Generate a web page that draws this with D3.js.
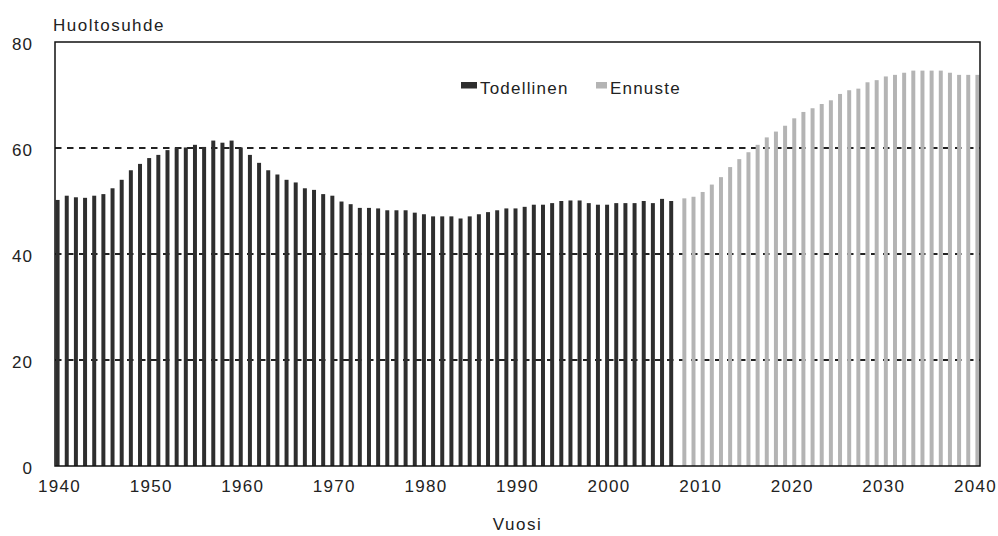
<!DOCTYPE html>
<html>
<head>
<meta charset="utf-8">
<script src="https://cdn.jsdelivr.net/npm/d3@7"></script>
<style>
  body { margin: 0; background: #fff; }
  text { font-family: "Liberation Sans", Arial, sans-serif; fill: #222; }
</style>
</head>
<body>
<script>
// vuodet ja huoltosuhde
const actualYears = d3.range(1940, 2008)
const forecastYears = d3.range(2008, 2041)
const actualValues = [
  50.2, 51.0, 50.7, 50.6, 51.0, 51.3, 52.4, 54.0, 55.8, 57.0,
  58.1, 58.7, 59.6, 60.1, 60.1, 60.6, 60.2, 61.4, 61.0, 61.4,
  60.1, 58.7, 57.2, 55.8, 55.0, 54.0, 53.5, 52.4, 52.1, 51.3,
  51.0, 49.9, 49.4, 48.7, 48.7, 48.6, 48.25, 48.25, 48.25, 47.8,
  47.5, 47.1, 47.1, 47.1, 46.7, 47.1, 47.5, 47.9, 48.25, 48.6,
  48.6, 48.9, 49.3, 49.3, 49.6, 50.0, 50.1, 50.1, 49.6, 49.3,
  49.3, 49.6, 49.6, 49.6, 50.0, 49.6, 50.4, 50.0
]
const forecastValues = [
  50.5, 50.8, 51.7, 53.1, 54.5, 56.4, 57.9, 59.2, 60.6, 62.0,
  63.1, 64.2, 65.6, 66.8, 67.5, 68.3, 69.0, 70.2, 70.9, 71.2,
  72.4, 72.8, 73.5, 73.8, 74.2, 74.6, 74.6, 74.6, 74.6, 74.2,
  73.8, 73.8, 73.8
]
const seriesNames = ['Todellinen', 'Ennuste']
const seriesColors = ['#2e2e2e', '#b4b4b4']
const yTicks = [0, 20, 40, 60, 80]
const xTickYears = [1940, 1950, 1960, 1970, 1980, 1990, 2000, 2010, 2020, 2030, 2040]

const years = actualYears.concat(forecastYears)
const data = [
  ...actualYears.map((y, i) => ({ year: y, series: 'Todellinen', value: actualValues[i] })),
  ...forecastYears.map((y, i) => ({ year: y, series: 'Ennuste', value: forecastValues[i] }))
]

const width = 998, height = 536
const plotLeft = 55, plotRight = 980, plotTop = 42, plotBottom = 466

const svg = d3.select('body').append('svg')
  .attr('width', width)
  .attr('height', height)

const x = d3.scaleBand()
  .domain(years)
  .range([plotLeft, plotRight])
  .paddingInner(0.13)
  .paddingOuter(0.065)

const x1 = d3.scaleBand()
  .domain(seriesNames)
  .range([0, x.bandwidth()])

const y = d3.scaleLinear()
  .domain([0, 80])
  .range([plotBottom, plotTop])

const color = d3.scaleOrdinal().domain(seriesNames).range(seriesColors)

// katkoviivat
svg.append('g')
  .selectAll('line')
  .data(yTicks.filter(d => d > 0 && d < 80))
  .enter()
  .append('line')
  .attr('x1', plotLeft)
  .attr('x2', plotRight)
  .attr('y1', d => y(d))
  .attr('y2', d => y(d))
  .attr('stroke', '#222')
  .attr('stroke-width', 1.8)
  .attr('stroke-dasharray', '6.5,5.5')

// pylväät
svg.append('g')
  .selectAll('rect')
  .data(data)
  .enter()
  .append('rect')
  .attr('x', d => x(d.year) + x1(d.series))
  .attr('y', d => y(d.value))
  .attr('width', x1.bandwidth())
  .attr('height', d => y(0) - y(d.value))
  .attr('fill', d => color(d.series))

// kehys
svg.append('rect')
  .attr('x', plotLeft)
  .attr('y', plotTop)
  .attr('width', plotRight - plotLeft)
  .attr('height', plotBottom - plotTop)
  .attr('fill', 'none')
  .attr('stroke', '#111')
  .attr('stroke-width', 1.5)

const yAxis = d3.axisLeft(y).tickValues(yTicks).tickSize(0).tickPadding(22)
svg.append('g')
  .attr('transform', `translate(${plotLeft},0)`)
  .call(yAxis)
  .call(g => g.select('.domain').remove())
  .selectAll('text')
  .attr('font-size', 17)
  .attr('dy', '0.45em')
  .style('letter-spacing', '1px')

const xAxis = d3.axisBottom(x).tickValues(xTickYears).tickSize(0).tickPadding(14)
svg.append('g')
  .attr('transform', `translate(0,${plotBottom})`)
  .call(xAxis)
  .call(g => g.select('.domain').remove())
  .selectAll('text')
  .attr('font-size', 17)
  .style('letter-spacing', '1.3px')

svg.append('text')
  .attr('x', 53)
  .attr('y', 31)
  .attr('font-size', 17)
  .style('letter-spacing', '1.5px')
  .text('Huoltosuhde')

svg.append('text')
  .attr('x', (plotLeft + plotRight) / 2)
  .attr('y', 530)
  .attr('text-anchor', 'middle')
  .attr('font-size', 17)
  .style('letter-spacing', '1.5px')
  .text('Vuosi')

// selite
const legendItems = [
  { name: 'Todellinen', x: 461, w: 16 },
  { name: 'Ennuste', x: 596, w: 11 }
]
const legend = svg.append('g')
legend.selectAll('rect')
  .data(legendItems)
  .enter()
  .append('rect')
  .attr('x', d => d.x)
  .attr('y', 82)
  .attr('width', d => d.w)
  .attr('height', 6.5)
  .attr('fill', d => color(d.name))
legend.selectAll('text')
  .data(legendItems)
  .enter()
  .append('text')
  .attr('x', d => d.x + d.w + 3)
  .attr('y', 94)
  .attr('font-size', 17)
  .style('letter-spacing', '1.2px')
  .text(d => d.name)
</script>
</body>
</html>
